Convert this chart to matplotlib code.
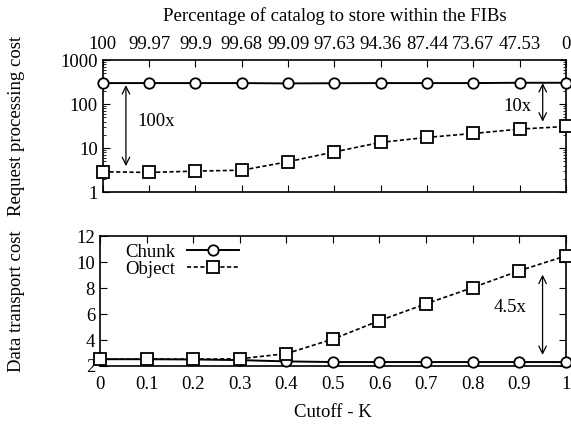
import numpy as np
import matplotlib.pyplot as plt
from matplotlib.ticker import LogLocator, NullFormatter, FixedLocator

plt.rcParams['font.family'] = ['Liberation Serif', 'DejaVu Serif']
plt.rcParams['font.size'] = 13.5

# Dados
cutoff = [0, 0.1, 0.2, 0.3, 0.4, 0.5, 0.6, 0.7, 0.8, 0.9, 1.0]
pct_catalogo = ['100', '99.97', '99.9', '99.68', '99.09', '97.63',
                '94.36', '87.44', '73.67', '47.53', '0']

req_chunk = [300, 300, 300, 300, 295, 298, 300, 300, 300, 305, 305]
req_object = [2.9, 2.8, 3.0, 3.15, 4.9, 8.2, 13.5, 17.5, 21.5, 27, 31]

dados_chunk = [2.52, 2.52, 2.5, 2.45, 2.35, 2.3, 2.3, 2.3, 2.3, 2.3, 2.3]
dados_object = [2.52, 2.52, 2.52, 2.55, 2.95, 4.07, 5.5, 6.8, 8.05, 9.35, 10.5]

fig = plt.figure(figsize=(5.71, 4.26), dpi=100)
ax1 = fig.add_axes([0.180, 0.549, 0.811, 0.310])
ax2 = fig.add_axes([0.175, 0.141, 0.816, 0.304])

estilo_chunk = dict(color='black', linestyle='-', linewidth=1.4, marker='o',
                    markersize=7.5, markerfacecolor='white',
                    markeredgewidth=1.3, clip_on=False, zorder=3)
estilo_object = dict(color='black', linestyle=(0, (2.5, 1.5)), linewidth=1.2,
                     marker='s', markersize=8, markerfacecolor='white',
                     markeredgewidth=1.3, clip_on=False, zorder=3)

# Painel superior: custo de processamento (escala log)
ax1.plot(cutoff, req_chunk, **estilo_chunk)
ax1.plot(cutoff, req_object, **estilo_object)
ax1.set_yscale('log')
ax1.set_xlim(0, 1)
ax1.set_ylim(1, 1000)
ax1.yaxis.set_major_locator(FixedLocator([1, 10, 100, 1000]))
ax1.set_yticklabels(['1', '10', '100', '1000'])
ax1.yaxis.set_minor_locator(LogLocator(base=10, subs=np.arange(2, 10)))
ax1.yaxis.set_minor_formatter(NullFormatter())
ax1.set_xticks(cutoff)
ax1.set_xticklabels(pct_catalogo)
ax1.tick_params(axis='x', which='both', top=True, bottom=True,
                labeltop=True, labelbottom=False, direction='in', pad=5)
ax1.tick_params(axis='y', which='both', left=True, right=True, direction='in')
ax1.tick_params(which='major', length=5)
ax1.tick_params(which='minor', length=2.5)
ax1.xaxis.set_label_position('top')
ax1.set_xlabel('Percentage of catalog to store within the FIBs', labelpad=11)
ax1.set_ylabel('Request processing cost')
ax1.yaxis.set_label_coords(-0.168, 0.5)

ax1.annotate('', xy=(0.05, 3.9), xytext=(0.05, 270),
             arrowprops=dict(arrowstyle='<->', color='black', lw=0.9,
                             shrinkA=0, shrinkB=0))
ax1.text(0.075, 41, '100x', ha='left', va='center')
ax1.annotate('', xy=(0.95, 40), xytext=(0.95, 300),
             arrowprops=dict(arrowstyle='<->', color='black', lw=0.9,
                             shrinkA=0, shrinkB=0))
ax1.text(0.925, 87, '10x', ha='right', va='center')

# Painel inferior: custo de transporte de dados
ax2.plot(cutoff, dados_chunk, label='Chunk', **estilo_chunk)
ax2.plot(cutoff, dados_object, label='Object', **estilo_object)
ax2.set_xlim(0, 1)
ax2.set_ylim(2, 12)
ax2.set_yticks([2, 4, 6, 8, 10, 12])
ax2.set_xticks(cutoff)
ax2.set_xticklabels(['0', '0.1', '0.2', '0.3', '0.4', '0.5', '0.6',
                     '0.7', '0.8', '0.9', '1'])
ax2.tick_params(axis='both', which='both', top=True, right=True,
                direction='in', length=5)
ax2.tick_params(axis='x', pad=7)
ax2.set_xlabel('Cutoff - K', labelpad=8)
ax2.set_ylabel('Data transport cost')
ax2.yaxis.set_label_coords(-0.161, 0.5)

ax2.annotate('', xy=(0.95, 2.85), xytext=(0.95, 9.05),
             arrowprops=dict(arrowstyle='<->', color='black', lw=0.9,
                             shrinkA=0, shrinkB=0))
ax2.text(0.88, 6.5, '4.5x', ha='center', va='center')

ax2.legend(loc='upper left', bbox_to_anchor=(0.03, 1.03), frameon=False,
           markerfirst=False, handlelength=2.8, handletextpad=0.6,
           labelspacing=0.0, borderaxespad=0.2)

for ax in (ax1, ax2):
    for s in ax.spines.values():
        s.set_linewidth(1.2)
    ax.set_facecolor('white')

fig.savefig('out.png', dpi=100)
